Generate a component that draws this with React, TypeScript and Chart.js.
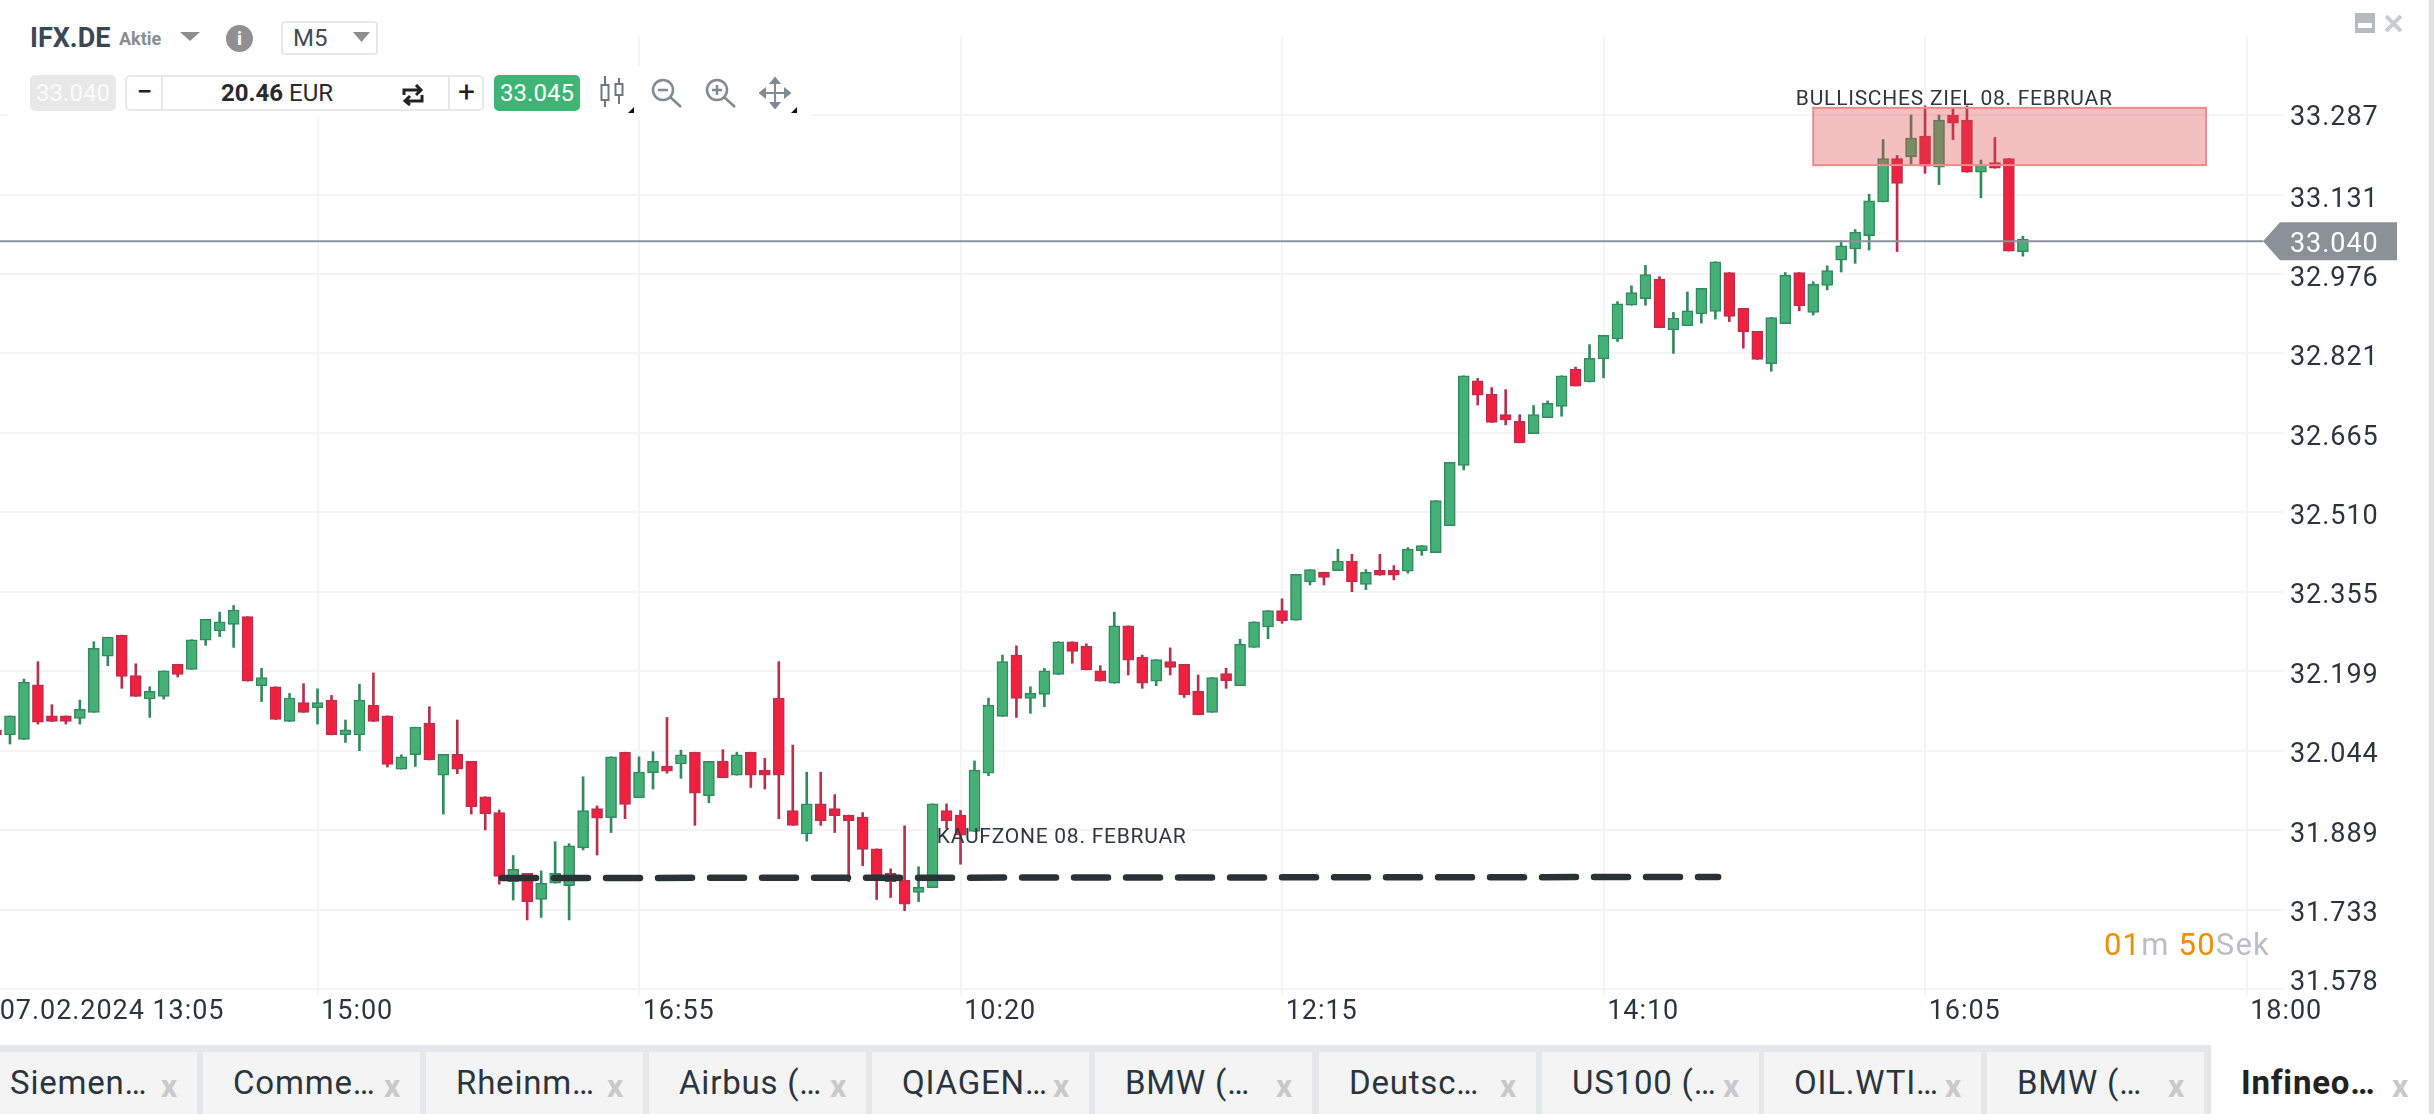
import { useEffect, useRef } from 'react';
import { Chart, registerables } from 'chart.js';

Chart.register(...registerables);

const opens = [
  32.085, 32.075, 32.066, 32.173, 32.112, 32.112, 32.107, 32.119, 32.229, 32.270,
  32.191, 32.145, 32.150, 32.213, 32.203, 32.260, 32.278, 32.291, 32.306, 32.171,
  32.169, 32.101, 32.138, 32.128, 32.143, 32.075, 32.075, 32.133, 32.112, 32.008,
  32.036, 32.098, 31.996, 32.037, 32.023, 31.954, 31.923, 31.788, 31.804, 31.753,
  31.785, 31.780, 31.854, 31.931, 31.913, 32.041, 31.952, 32.001, 32.014, 32.018,
  32.041, 31.956, 32.023, 31.996, 32.041, 32.006, 32.147, 31.927, 31.881, 31.940,
  31.931, 31.918, 31.914, 31.852, 31.804, 31.791, 31.767, 31.776, 31.927, 31.918,
  31.886, 32.000, 32.111, 32.231, 32.146, 32.154, 32.193, 32.257, 32.248, 32.200,
  32.176, 32.288, 32.227, 32.180, 32.218, 32.213, 32.160, 32.119, 32.195, 32.171,
  32.246, 32.286, 32.318, 32.299, 32.374, 32.393, 32.396, 32.415, 32.369, 32.397,
  32.397, 32.395, 32.435, 32.431, 32.484, 32.602, 32.767, 32.741, 32.701, 32.688,
  32.664, 32.695, 32.717, 32.790, 32.765, 32.810, 32.849, 32.915, 32.928, 32.966,
  32.867, 32.875, 32.898, 32.903, 32.979, 32.909, 32.864, 32.801, 32.879, 32.979,
  32.901, 32.954, 33.003, 33.025, 33.051, 33.117, 33.202, 33.205, 33.246, 33.185,
  33.287, 33.277, 33.175, 33.194, 33.202, 33.020,
];
const closes = [
  32.075, 32.112, 32.178, 32.100, 32.101, 32.101, 32.125, 32.244, 32.266, 32.189,
  32.150, 32.160, 32.200, 32.193, 32.261, 32.301, 32.296, 32.319, 32.180, 32.187,
  32.105, 32.147, 32.119, 32.138, 32.075, 32.085, 32.143, 32.101, 32.017, 32.032,
  32.090, 32.026, 32.037, 32.008, 31.934, 31.921, 31.798, 31.812, 31.749, 31.785,
  31.804, 31.858, 31.927, 31.912, 32.032, 31.939, 32.002, 32.023, 32.004, 32.036,
  31.961, 32.023, 31.991, 32.036, 31.996, 31.996, 31.996, 31.898, 31.940, 31.907,
  31.917, 31.907, 31.851, 31.801, 31.788, 31.744, 31.777, 31.940, 31.907, 31.879,
  32.006, 32.133, 32.218, 32.146, 32.156, 32.200, 32.257, 32.238, 32.202, 32.180,
  32.288, 32.221, 32.176, 32.222, 32.207, 32.153, 32.114, 32.187, 32.181, 32.252,
  32.296, 32.318, 32.298, 32.389, 32.398, 32.383, 32.415, 32.374, 32.393, 32.387,
  32.387, 32.438, 32.445, 32.533, 32.608, 32.777, 32.739, 32.686, 32.691, 32.646,
  32.701, 32.723, 32.777, 32.757, 32.811, 32.856, 32.918, 32.940, 32.975, 32.871,
  32.890, 32.904, 32.948, 33.000, 32.893, 32.863, 32.809, 32.891, 32.974, 32.914,
  32.956, 32.983, 33.031, 33.058, 33.119, 33.202, 33.153, 33.242, 33.187, 33.277,
  33.271, 33.175, 33.189, 33.183, 33.021, 33.044,
];
const highs = [
  32.112, 32.112, 32.184, 32.218, 32.134, 32.112, 32.143, 32.257, 32.266, 32.270,
  32.214, 32.169, 32.200, 32.213, 32.261, 32.301, 32.315, 32.328, 32.306, 32.205,
  32.169, 32.156, 32.175, 32.165, 32.152, 32.104, 32.174, 32.196, 32.112, 32.036,
  32.090, 32.130, 32.037, 32.104, 32.023, 31.954, 31.928, 31.839, 31.804, 31.809,
  31.866, 31.862, 31.993, 31.936, 32.032, 32.041, 32.032, 32.042, 32.109, 32.045,
  32.041, 32.023, 32.046, 32.041, 32.041, 32.029, 32.218, 32.055, 32.002, 32.002,
  31.958, 31.918, 31.923, 31.852, 31.813, 31.897, 31.817, 31.940, 31.940, 31.927,
  32.024, 32.147, 32.231, 32.249, 32.169, 32.205, 32.257, 32.257, 32.253, 32.210,
  32.315, 32.288, 32.231, 32.222, 32.245, 32.213, 32.192, 32.187, 32.205, 32.262,
  32.296, 32.318, 32.341, 32.389, 32.398, 32.393, 32.438, 32.428, 32.398, 32.428,
  32.406, 32.441, 32.445, 32.533, 32.608, 32.777, 32.772, 32.754, 32.750, 32.701,
  32.719, 32.728, 32.777, 32.794, 32.838, 32.856, 32.922, 32.953, 32.993, 32.971,
  32.901, 32.941, 32.948, 33.000, 32.979, 32.909, 32.864, 32.891, 32.979, 32.979,
  32.961, 32.992, 33.041, 33.063, 33.132, 33.239, 33.208, 33.287, 33.305, 33.287,
  33.300, 33.305, 33.199, 33.243, 33.202, 33.050,
];
const lows = [
  32.075, 32.057, 32.066, 32.096, 32.101, 32.096, 32.096, 32.119, 32.210, 32.166,
  32.150, 32.109, 32.145, 32.188, 32.203, 32.250, 32.267, 32.246, 32.180, 32.140,
  32.105, 32.101, 32.119, 32.096, 32.075, 32.060, 32.044, 32.101, 32.012, 32.008,
  32.013, 32.026, 31.920, 31.999, 31.920, 31.889, 31.783, 31.752, 31.713, 31.718,
  31.785, 31.713, 31.850, 31.840, 31.884, 31.911, 31.952, 31.969, 32.000, 31.990,
  31.898, 31.942, 31.991, 31.996, 31.972, 31.969, 31.911, 31.898, 31.867, 31.898,
  31.884, 31.788, 31.819, 31.753, 31.757, 31.731, 31.749, 31.776, 31.892, 31.822,
  31.886, 31.995, 32.111, 32.109, 32.117, 32.130, 32.193, 32.215, 32.202, 32.180,
  32.176, 32.192, 32.166, 32.171, 32.192, 32.148, 32.114, 32.119, 32.166, 32.171,
  32.246, 32.263, 32.293, 32.299, 32.368, 32.368, 32.396, 32.355, 32.359, 32.387,
  32.378, 32.391, 32.426, 32.431, 32.484, 32.593, 32.720, 32.686, 32.681, 32.646,
  32.664, 32.695, 32.698, 32.757, 32.765, 32.773, 32.844, 32.915, 32.915, 32.871,
  32.821, 32.875, 32.880, 32.888, 32.883, 32.831, 32.809, 32.786, 32.879, 32.904,
  32.896, 32.945, 32.980, 32.997, 33.023, 33.117, 33.020, 33.192, 33.173, 33.151,
  33.239, 33.175, 33.125, 33.183, 33.021, 33.011,
];

const xTickIndex = [0, 23, 46, 69, 92, 115, 138, 161];
const xTickLabels = ['07.02.2024 13:05', '15:00', '16:55', '10:20', '12:15', '14:10', '16:05', '18:00'];
const yTicks = [31.578, 31.733, 31.889, 32.044, 32.199, 32.355, 32.51, 32.665, 32.821, 32.976, 33.131, 33.287];

const lastPrice = 33.04;
const buyZoneX = [36.2, 123.2];
const buyZoneY = [31.795, 31.797];
const targetZoneX = [130, 158.1];
const targetZoneY = [33.189, 33.301];
const tabs = ['Siemen…', 'Comme…', 'Rheinm…', 'Airbus (…', 'QIAGEN…', 'BMW (…', 'Deutsc…', 'US100 (…', 'OIL.WTI…', 'BMW (…', 'Infineo…'];
const tabStarts = [-20, 203, 426, 649, 872, 1095, 1319, 1542, 1764, 1987, 2211];

const GREEN = '#45b076';
const GREEN_DARK = '#338a5e';
const RED = '#f0203f';
const RED_DARK = '#b9304e';
const TEXT = '#2b3540';
const GRID = '#f2f4f7';
const FONT = 'Roboto';

const up = (i: number) => closes[i] >= opens[i];

const overlay = {
  id: 'overlay',
  beforeDraw(chart: any) {
    chart.ctx.letterSpacing = '0.95px';
    // the platform prints its price labels a bit under the grid line, the lowest one above it
    const items = chart.scales.y.getLabelItems();
    if (!items.moved) {
      items.forEach((item: any, i: number) => {
        item.options.translation[1] += i === 0 ? -6 : i === items.length - 1 ? 3 : 5;
      });
      items.moved = true;
    }
  },
  afterDatasetsDraw(chart: any) {
    const { ctx, scales } = chart;
    const { x, y } = scales;

    // target zone
    const left = x.getPixelForValue(targetZoneX[0]);
    const right = x.getPixelForValue(targetZoneX[1]);
    const top = y.getPixelForValue(targetZoneY[1]);
    const bottom = y.getPixelForValue(targetZoneY[0]);
    ctx.save();
    ctx.fillStyle = 'rgba(221, 72, 72, 0.35)';
    ctx.fillRect(left, top, right - left, bottom - top);
    ctx.strokeStyle = '#f08a8c';
    ctx.lineWidth = 2;
    ctx.strokeRect(left, top, right - left, bottom - top);

    // zone captions
    ctx.font = `21px ${FONT}`;
    ctx.letterSpacing = '0.75px';
    ctx.fillStyle = '#2e3740';
    ctx.textAlign = 'left';
    ctx.textBaseline = 'middle';
    ctx.fillText('BULLISCHES ZIEL 08. FEBRUAR', x.getPixelForValue(128.76), y.getPixelForValue(33.317));
    ctx.fillText('KAUFZONE 08. FEBRUAR', x.getPixelForValue(67.3), y.getPixelForValue(31.873));

    // last price tag
    const py = y.getPixelForValue(lastPrice);
    const tagRight = chart.width - 37;
    const tagLeft = tagRight - 117;
    ctx.fillStyle = '#8b9297';
    ctx.beginPath();
    ctx.moveTo(tagLeft - 17, py);
    ctx.lineTo(tagLeft, py - 19);
    ctx.lineTo(tagRight, py - 19);
    ctx.lineTo(tagRight, py + 19);
    ctx.lineTo(tagLeft, py + 19);
    ctx.closePath();
    ctx.fill();
    ctx.font = `27px ${FONT}`;
    ctx.letterSpacing = '0.95px';
    ctx.fillStyle = '#fff';
    ctx.fillText(lastPrice.toFixed(3), chart.width - 144, py + 4);
    ctx.restore();
  },
};

const Tri = ({ left, top, w = 20, h = 9 }: { left: number; top: number; w?: number; h?: number }) => (
  <svg style={{ position: 'absolute', left, top }} width={w} height={h}>
    <polygon points={`0,0 ${w},0 ${w / 2},${h}`} fill="#8e8e8e" />
  </svg>
);

const Lens = ({ left, plus }: { left: number; plus?: boolean }) => (
  <svg style={{ position: 'absolute', left, top: 78 }} width={31} height={30} fill="none" stroke="#7f8a93" strokeWidth={2.5}>
    <circle cx={12} cy={12} r={10} />
    <line x1={19} y1={19} x2={30} y2={29} />
    <line x1={7} y1={12} x2={17} y2={12} />
    {plus && <line x1={12} y1={7} x2={12} y2={17} />}
  </svg>
);

const Corner = ({ left }: { left: number }) => (
  <svg style={{ position: 'absolute', left, top: 107 }} width={6} height={6}>
    <polygon points="6,0 6,6 0,6" fill="#111" />
  </svg>
);

const box = (left: number, top: number, width: number, height: number, extra: any = {}) => ({
  position: 'absolute' as const,
  left,
  top,
  width,
  height,
  boxSizing: 'border-box' as const,
  ...extra,
});

const App = () => {
  const canvasRef = useRef<HTMLCanvasElement | null>(null);

  useEffect(() => {
    if (!canvasRef.current) return;
    const candleColor = (i: number) => (up(i) ? GREEN : RED);
    const edgeColor = (i: number) => (up(i) ? GREEN_DARK : RED_DARK);

    const chart = new Chart(canvasRef.current, {
      type: 'bar',
      data: {
        datasets: [
          {
            type: 'line',
            label: 'Kaufzone',
            data: buyZoneX.map((v, i) => ({ x: v, y: buyZoneY[i] })),
            borderColor: '#2a3238',
            borderWidth: 6.5,
            borderDash: [34, 18],
            borderCapStyle: 'round',
            pointRadius: 0,
            order: 0,
          },
          {
            type: 'line',
            label: 'Kurs',
            data: [
              { x: 0, y: lastPrice },
              { x: 162.2, y: lastPrice },
            ],
            borderColor: '#8b9297',
            borderWidth: 2,
            pointRadius: 0,
            order: 1,
          },
          {
            label: 'Körper',
            data: opens.map((o, i) => ({ x: i, y: [o, closes[i]] })),
            backgroundColor: opens.map((_, i) => candleColor(i)),
            borderColor: opens.map((_, i) => edgeColor(i)),
            borderWidth: 1.5,
            borderSkipped: false,
            barThickness: 11,
            grouped: false,
            order: 2,
          },
          {
            label: 'Docht',
            data: lows.map((l, i) => ({ x: i, y: [l, highs[i]] })),
            backgroundColor: lows.map((_, i) => edgeColor(i)),
            barThickness: 2,
            grouped: false,
            order: 3,
          },
        ] as any,
      },
      options: {
        responsive: false,
        animation: false,
        events: [],
        layout: { padding: { top: 36 } },
        plugins: { legend: { display: false }, tooltip: { enabled: false } },
        font: { family: FONT },
        scales: {
          x: {
            type: 'linear',
            offset: false,
            min: 0,
            max: 163.68,
            afterBuildTicks: (s: any) => {
              s.ticks = xTickIndex.map((value) => ({ value }));
            },
            afterFit: (s: any) => {
              s.height = 1114 - 989;
            },
            grid: { offset: false, color: GRID, lineWidth: 2, tickLength: 7, drawTicks: true },
            border: { display: false },
            ticks: {
              autoSkip: false,
              maxRotation: 0,
              align: 'start',
              padding: 0,
              color: TEXT,
              font: { family: FONT, size: 27 },
              callback: (_v: any, i: number) => '\u200a' + xTickLabels[i],
            },
          },
          y: {
            position: 'right',
            min: 31.578,
            max: 33.4415,
            afterBuildTicks: (s: any) => {
              s.ticks = yTicks.map((value) => ({ value }));
            },
            afterFit: (s: any) => {
              s.width = 2438 - 2288;
            },
            grid: { color: GRID, lineWidth: 2, drawTicks: false },
            border: { display: false },
            ticks: {
              padding: 6,
              color: TEXT,
              font: { family: FONT, size: 27 },
              callback: (v: any) => Number(v).toFixed(3),
            },
          },
        },
      } as any,
      plugins: [overlay],
    });

    return () => chart.destroy();
  }, []);

  const text = { fontFamily: FONT, color: TEXT, whiteSpace: 'nowrap' as const };

  return (
    <div style={{ position: 'fixed', left: 0, top: 0, width: 2434, height: 1114, overflow: 'hidden', background: '#fff', ...text }}>
      <canvas ref={canvasRef} width={2438} height={1114} style={{ position: 'absolute', left: -4, top: 0, display: 'block' }} />

      {/* toolbar backdrop */}
      <div style={box(8, 0, 592, 117, { background: '#fff' })} />
      <div style={box(600, 66, 212, 50, { background: '#fff' })} />

      <div style={box(30, 21, 90, 34, { font: `700 27px ${FONT}`, lineHeight: '34px', color: '#3a4853' })}>IFX.DE</div>
      <div style={box(119, 24, 50, 30, { font: `700 18px ${FONT}`, lineHeight: '30px', color: '#8a8d90' })}>Aktie</div>
      <Tri left={180} top={32} />
      <div style={box(226, 25, 27, 27, { borderRadius: '50%', background: '#909090', color: '#fff', textAlign: 'center', font: `700 19px/27px ${FONT}` })}>i</div>
      <div style={box(281, 21, 97, 34, { border: '2px solid #e8e8e8', borderRadius: 4, font: `24px/30px ${FONT}`, paddingLeft: 10, color: '#3f4c56' })}>M5</div>
      <Tri left={353} top={32} w={17} h={10} />

      <div style={box(30, 75, 86, 36, { background: '#e8e8e8', borderRadius: 5, color: '#fbfbfb', textAlign: 'center', font: `24px/36px ${FONT}` })}>33.040</div>
      <div style={box(125, 75, 359, 36, { border: '2px solid #e8e8e8', borderRadius: 5 })} />
      <div style={box(161, 75, 2, 36, { background: '#e8e8e8' })} />
      <div style={box(448, 75, 2, 36, { background: '#e8e8e8' })} />
      <div style={box(128, 75, 33, 36, { textAlign: 'center', font: `500 28px/34px ${FONT}`, color: '#222' })}>−</div>
      <div style={box(450, 75, 33, 36, { textAlign: 'center', font: `400 30px/34px ${FONT}`, color: '#222' })}>+</div>
      <div style={box(221, 75, 120, 36, { font: `24px/36px ${FONT}`, color: '#2a2a2a' })}>
        <b>20.46</b> EUR
      </div>
      <svg style={{ position: 'absolute', left: 402, top: 84 }} width={22} height={22} fill="none" stroke="#222" strokeWidth={3}>
        <path d="M2 11 V6 H17 M14 1 L19 6 L14 11" />
        <path d="M20 11 V17 H5 M8 12 L3 17 L8 21" />
      </svg>
      <div style={box(494, 75, 86, 36, { background: '#3eb574', borderRadius: 5, color: '#fff', textAlign: 'center', font: `24px/36px ${FONT}` })}>33.045</div>

      <svg style={{ position: 'absolute', left: 599, top: 75 }} width={27} height={33} fill="#fff" stroke="#6c7780" strokeWidth={2}>
        <line x1={6} y1={1} x2={6} y2={32} />
        <rect x={2.5} y={10} width={7} height={15} />
        <line x1={20} y1={3} x2={20} y2={29} />
        <rect x={16.5} y={9} width={7} height={11} />
      </svg>
      <Corner left={628} />
      <Lens left={651} />
      <Lens left={705} plus />
      <svg style={{ position: 'absolute', left: 759, top: 77 }} width={32} height={32} fill="#7f8a93" stroke="#7f8a93" strokeWidth={2}>
        <line x1={16} y1={3} x2={16} y2={29} />
        <line x1={3} y1={16} x2={29} y2={16} />
        <polygon points="16,1 12,6 20,6" />
        <polygon points="16,31 12,26 20,26" />
        <polygon points="1,16 6,12 6,20" />
        <polygon points="31,16 26,12 26,20" />
      </svg>
      <Corner left={791} />

      {/* window buttons */}
      <div style={box(2355, 13, 20, 20, { background: '#b5bcc1' })}>
        <div style={box(3, 10, 14, 5, { background: '#fff' })} />
      </div>
      <svg style={{ position: 'absolute', left: 2385, top: 15 }} width={17} height={17} stroke="#c8cdd0" strokeWidth={4}>
        <line x1={1} y1={1} x2={16} y2={16} />
        <line x1={16} y1={1} x2={1} y2={16} />
      </svg>
      <div style={box(2429, 0, 5, 1114, { background: '#dfe3e6' })} />

      {/* countdown */}
      <div style={box(2104, 925, 175, 40, { font: `31px/40px ${FONT}`, letterSpacing: 1.2, color: '#b9bfc4' })}>
        <span style={{ color: '#f08c00' }}>01</span>m <span style={{ color: '#f08c00' }}>50</span>Sek
      </div>

      {/* tab bar */}
      <div style={box(0, 1045, 2211, 69, { background: '#e4e8eb' })} />
      {tabs.map((name, i) => {
        const active = i === tabs.length - 1;
        return (
          <div key={i} style={box(tabStarts[i], active ? 1045 : 1052, active ? 218 : 217, active ? 69 : 62, { background: active ? '#fff' : '#f4f4f4' })}>
            <span style={{ position: 'absolute', left: 30, top: active ? 18 : 11, font: `${active ? 700 : 400} 33px/40px ${FONT}`, letterSpacing: 0.8, color: active ? '#222' : TEXT }}>
              {name}
            </span>
            <span style={{ position: 'absolute', left: 181, top: active ? 21 : 14, font: `700 32px/40px ${FONT}`, color: '#c9c9c9' }}>x</span>
          </div>
        );
      })}
    </div>
  );
};

export default App;
